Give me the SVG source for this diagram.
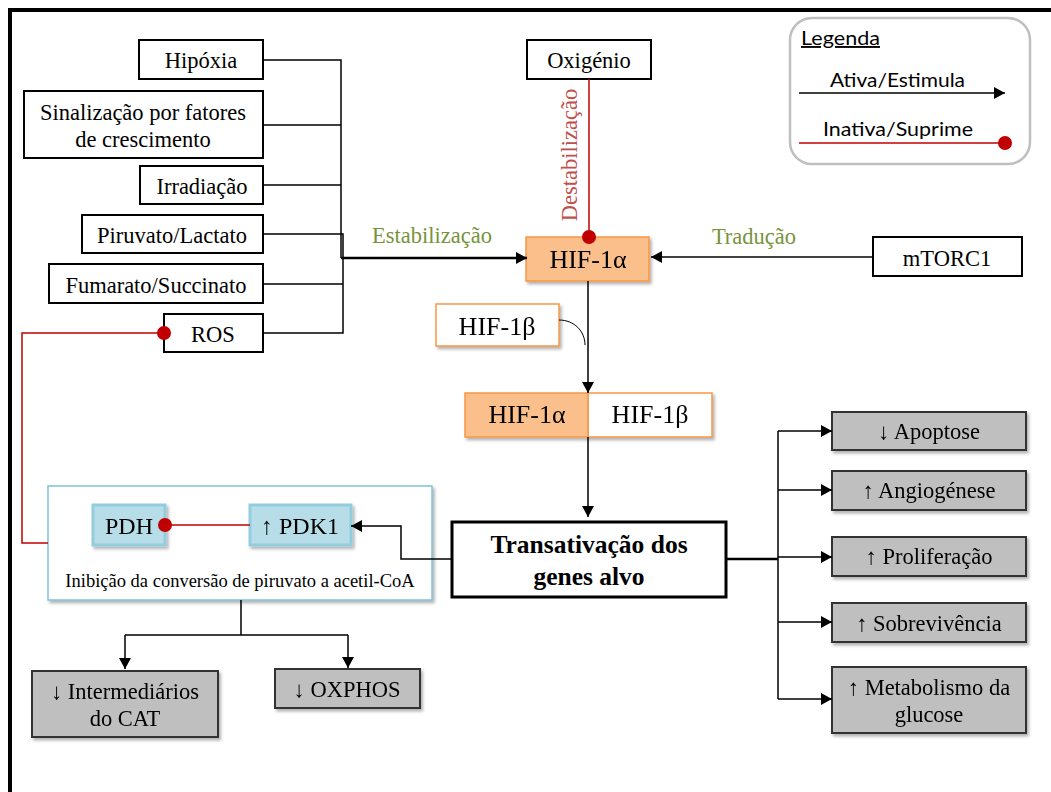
<svg xmlns="http://www.w3.org/2000/svg" width="1051" height="792" viewBox="0 0 1051 792">
  <style>
    .t { font-family: "Liberation Serif", "Times New Roman", serif; font-size: 22.5px; fill: #000; text-anchor: middle; }
    .hif { font-size: 26px; }
    .bold { font-weight: bold; font-size: 25.5px; }
    .green { fill: #77933C; }
    .redtxt { fill: #C0504D; }
    .leg { font-family: Lato, "Noto Sans", sans-serif; font-size: 19px; fill: #000; }
    .box { fill: #fff; stroke: #000; stroke-width: 2; }
    .gray { fill: #BFBFBF; stroke: #333; stroke-width: 2; }
    .hifa { fill: #FBBF8C; stroke: #F79646; stroke-width: 1.5; }
    .hifb { fill: #fff; stroke: #F79646; stroke-width: 1.5; }
    .blue { fill: #B7DEE8; stroke: #93CDDD; stroke-width: 3; }
    .frame { fill: #fff; stroke: #7FC3D7; stroke-width: 1.5; }
    .ln { fill: none; stroke: #000; stroke-width: 1.5; }
    .thick { stroke-width: 2.5; }
    .rd { fill: none; stroke: #C00000; stroke-width: 1.5; }
  </style>
  <defs>
    <marker id="arrow" markerUnits="userSpaceOnUse" markerWidth="11" markerHeight="12" refX="11" refY="6" orient="auto">
      <path d="M0,0 L11,6 L0,12 z" fill="#000"/>
    </marker>
    <marker id="dot" markerUnits="userSpaceOnUse" markerWidth="16" markerHeight="16" refX="8" refY="8" orient="auto">
      <circle cx="8" cy="8" r="7" fill="#C00000"/>
    </marker>
    <filter id="shadow" x="-10%" y="-20%" width="125%" height="150%">
      <feDropShadow dx="2" dy="2.5" stdDeviation="1.5" flood-color="#000" flood-opacity="0.3"/>
    </filter>
  </defs>

  <rect width="1051" height="792" fill="#fff"/>
  <!-- outer frame -->
  <rect x="10" y="10" width="1200" height="1000" fill="none" stroke="#000" stroke-width="4"/>

  <!-- legend -->
  <g id="legend">
    <rect x="790" y="18" width="240" height="146" rx="22" fill="#fff" stroke="#BFBFBF" stroke-width="2.5"/>
    <text class="leg" x="801" y="45" text-decoration="underline" textLength="79" lengthAdjust="spacingAndGlyphs">Legenda</text>
    <text class="leg" x="830" y="87" textLength="135" lengthAdjust="spacingAndGlyphs">Ativa/Estimula</text>
    <text class="leg" x="823" y="136" textLength="150" lengthAdjust="spacingAndGlyphs">Inativa/Suprime</text>
    <path class="ln" d="M799,93 H1005" marker-end="url(#arrow)"/>
    <path class="rd" d="M799,143 H1005" marker-end="url(#dot)"/>
  </g>

  <!-- PDH / PDK1 module frame -->
  <g id="pdh-module">
    <rect class="frame" x="48" y="486" width="384" height="114" filter="url(#shadow)"/>
    <text class="t" x="240" y="587" style="font-size:18.5px">Inibição da conversão de piruvato a acetil-CoA</text>
  </g>

  <!-- edge labels -->
  <text class="t green" x="432" y="243">Estabilização</text>
  <text class="t green" x="754" y="244">Tradução</text>
  <text class="t redtxt" x="577" y="155" transform="rotate(-90 577 155)">Destabilização</text>

  <!-- input nodes -->
  <g id="hipoxia">
    <rect class="box" x="139" y="40" width="124" height="39"/>
    <text class="t" x="201" y="68">Hipóxia</text>
  </g>
  <g id="sinalizacao">
    <rect class="box" x="24" y="91" width="239" height="67"/>
    <text class="t" x="143" y="120">Sinalização por fatores</text>
    <text class="t" x="143" y="147">de crescimento</text>
  </g>
  <g id="irradiacao">
    <rect class="box" x="140" y="166" width="123" height="38"/>
    <text class="t" x="202" y="194">Irradiação</text>
  </g>
  <g id="piruvato">
    <rect class="box" x="82" y="215" width="181" height="38"/>
    <text class="t" x="172" y="243">Piruvato/Lactato</text>
  </g>
  <g id="fumarato">
    <rect class="box" x="49" y="264" width="214" height="39"/>
    <text class="t" x="156" y="293">Fumarato/Succinato</text>
  </g>
  <g id="ros">
    <rect class="box" x="164" y="314" width="99" height="38"/>
    <text class="t" x="213" y="342">ROS</text>
  </g>
  <g id="oxigenio">
    <rect class="box" x="527" y="40" width="124" height="39"/>
    <text class="t" x="589" y="68">Oxigénio</text>
  </g>
  <g id="mtorc1">
    <rect class="box" x="873" y="237" width="149" height="39"/>
    <text class="t" x="947" y="266">mTORC1</text>
  </g>

  <!-- HIF subunits -->
  <g id="hif1a" filter="url(#shadow)">
    <rect class="hifa" x="526" y="237" width="123" height="44"/>
    <text class="t hif" x="588" y="268">HIF-1α</text>
  </g>
  <g id="hif1b" filter="url(#shadow)">
    <rect class="hifb" x="436" y="304" width="123" height="42"/>
    <text class="t hif" x="497" y="335">HIF-1β</text>
  </g>
  <g id="hif-complex" filter="url(#shadow)">
    <rect class="hifb" x="588" y="393" width="124" height="44"/>
    <rect class="hifa" x="465" y="393" width="123" height="44"/>
    <text class="t hif" x="527" y="423">HIF-1α</text>
    <text class="t hif" x="650" y="423">HIF-1β</text>
  </g>

  <!-- target gene transactivation -->
  <g id="transativacao">
    <rect x="452" y="522" width="274" height="75" fill="#fff" stroke="#000" stroke-width="3"/>
    <text class="t bold" x="589" y="553">Transativação dos</text>
    <text class="t bold" x="589" y="585">genes alvo</text>
  </g>

  <g id="pdh" filter="url(#shadow)">
    <rect class="blue" x="93" y="505" width="72" height="40"/>
    <text class="t" x="129" y="534" style="font-size:24px">PDH</text>
  </g>
  <g id="pdk1" filter="url(#shadow)">
    <rect class="blue" x="250" y="505" width="101" height="40"/>
    <text class="t" x="300" y="534" style="font-size:24px">↑ PDK1</text>
  </g>

  <!-- metabolic outcomes -->
  <g id="intermediarios" filter="url(#shadow)">
    <rect class="gray" x="32" y="671" width="186" height="66"/>
    <text class="t" x="125" y="699">↓ Intermediários</text>
    <text class="t" x="125" y="726">do CAT</text>
  </g>
  <g id="oxphos" filter="url(#shadow)">
    <rect class="gray" x="275" y="669" width="145" height="39"/>
    <text class="t" x="347" y="697">↓ OXPHOS</text>
  </g>

  <!-- cellular outcomes -->
  <g id="apoptose" filter="url(#shadow)">
    <rect class="gray" x="832" y="412" width="194" height="38"/>
    <text class="t" x="929" y="439">↓ Apoptose</text>
  </g>
  <g id="angiogenese" filter="url(#shadow)">
    <rect class="gray" x="832" y="471" width="194" height="39"/>
    <text class="t" x="929" y="498">↑ Angiogénese</text>
  </g>
  <g id="proliferacao" filter="url(#shadow)">
    <rect class="gray" x="832" y="537" width="194" height="39"/>
    <text class="t" x="929" y="564">↑ Proliferação</text>
  </g>
  <g id="sobrevivencia" filter="url(#shadow)">
    <rect class="gray" x="832" y="603" width="194" height="39"/>
    <text class="t" x="929" y="631">↑ Sobrevivência</text>
  </g>
  <g id="metabolismo" filter="url(#shadow)">
    <rect class="gray" x="832" y="667" width="194" height="66"/>
    <text class="t" x="929" y="695">↑ Metabolismo da</text>
    <text class="t" x="929" y="722">glucose</text>
  </g>

  <!-- connectors (drawn over the nodes so end dots stay visible) -->
  <g id="connectors">
    <path class="ln" d="M263,60 H341 V258 M263,125 H341 M263,185 H341 M263,234 H343 V333 H263 M263,284 H343"/>
    <path class="ln thick" d="M341,258 H527" marker-end="url(#arrow)"/>
    <path class="rd" d="M589,79 V237" marker-end="url(#dot)"/>
    <path class="ln" d="M873,257 H651" marker-end="url(#arrow)"/>
    <path class="ln" d="M588,281 V393" marker-end="url(#arrow)"/>
    <path fill="none" stroke="#000" stroke-width="1" d="M559,320 C574,320 585,331 585,345"/>
    <path class="ln" d="M588,437 V517" marker-end="url(#arrow)"/>
    <path class="ln" d="M451,559 H401 V526 H351" marker-end="url(#arrow)"/>
    <path class="ln thick" d="M727,559 H778"/>
    <path class="ln" d="M778,431 V699"/>
    <path class="ln" d="M778,431 H832" marker-end="url(#arrow)"/>
    <path class="ln" d="M778,490 H832" marker-end="url(#arrow)"/>
    <path class="ln" d="M778,557 H832" marker-end="url(#arrow)"/>
    <path class="ln" d="M778,622 H832" marker-end="url(#arrow)"/>
    <path class="ln" d="M778,699 H832" marker-end="url(#arrow)"/>
    <path class="rd" d="M48,543 H22 V333 H164" marker-end="url(#dot)"/>
    <path class="rd" d="M250,525 H165" marker-end="url(#dot)"/>
    <path class="ln" d="M241,600 V635 M125,635 H348"/>
    <path class="ln" d="M125,635 V669" marker-end="url(#arrow)"/>
    <path class="ln" d="M348,635 V668" marker-end="url(#arrow)"/>
  </g>
</svg>
